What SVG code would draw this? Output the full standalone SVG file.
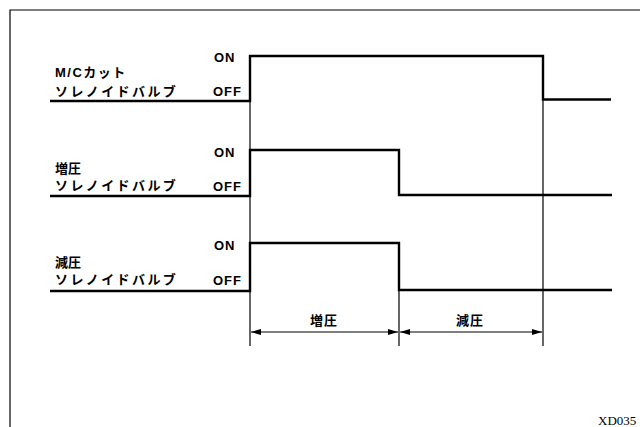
<svg xmlns="http://www.w3.org/2000/svg" width="640" height="427" viewBox="0 0 640 427">
<style>
.t{font-family:"Liberation Sans","Noto Sans CJK JP",sans-serif;font-size:13px;fill:#000;font-weight:bold}
.j{letter-spacing:2.4px}
.m{letter-spacing:1.5px}
.o{letter-spacing:1px}
.d{letter-spacing:1px}
.sig{fill:none;stroke:#000;stroke-width:2.4}
.thin{fill:none;stroke:#000;stroke-width:1.2}
.frame{fill:none;stroke:#000;stroke-width:1.2}
</style>
<defs>
<marker id="ah" viewBox="0 0 10 6" refX="10" refY="3" markerWidth="10" markerHeight="6" markerUnits="userSpaceOnUse" orient="auto-start-reverse">
<path d="M0,0 L10,3 L0,6 Z" fill="#000"/>
</marker>
</defs>
<rect width="640" height="427" fill="#fff"/>
<path class="frame" d="M10,427 V10 H640"/>
<g id="connectors">
<path class="thin" d="M250,101 V346"/>
<path class="thin" d="M399,290 V346"/>
<path class="thin" d="M543,99 V346"/>
<path class="thin" d="M251,332 H398" marker-start="url(#ah)" marker-end="url(#ah)"/>
<path class="thin" d="M400,332 H542" marker-start="url(#ah)" marker-end="url(#ah)"/>
</g>
<g id="mc">
<path class="sig" d="M50,101 H250 V56 H543 V99.5 H611"/>
<text class="t m" x="55" y="77">M/Cカット</text>
<text class="t j" x="55" y="96">ソレノイドバルブ</text>
<text class="t o" x="214" y="62">ON</text>
<text class="t o" x="213" y="96">OFF</text>
</g>
<g id="zouatsu">
<path class="sig" d="M50,196 H250 V150 H399 V195 H612"/>
<text class="t" x="55" y="173">増圧</text>
<text class="t j" x="55" y="190">ソレノイドバルブ</text>
<text class="t o" x="214" y="157">ON</text>
<text class="t o" x="213" y="191">OFF</text>
</g>
<g id="genatsu">
<path class="sig" d="M50,291 H250 V243 H399 V290 H612"/>
<text class="t" x="55" y="267">減圧</text>
<text class="t j" x="55" y="284">ソレノイドバルブ</text>
<text class="t o" x="214" y="250">ON</text>
<text class="t o" x="213" y="285">OFF</text>
</g>
<g id="labels">
<text class="t d" x="324" y="325" text-anchor="middle">増圧</text>
<text class="t d" x="470" y="325" text-anchor="middle">減圧</text>
<text x="598" y="425" style="font-family:'Liberation Serif',serif;font-size:13px">XD035</text>
</g>
</svg>
